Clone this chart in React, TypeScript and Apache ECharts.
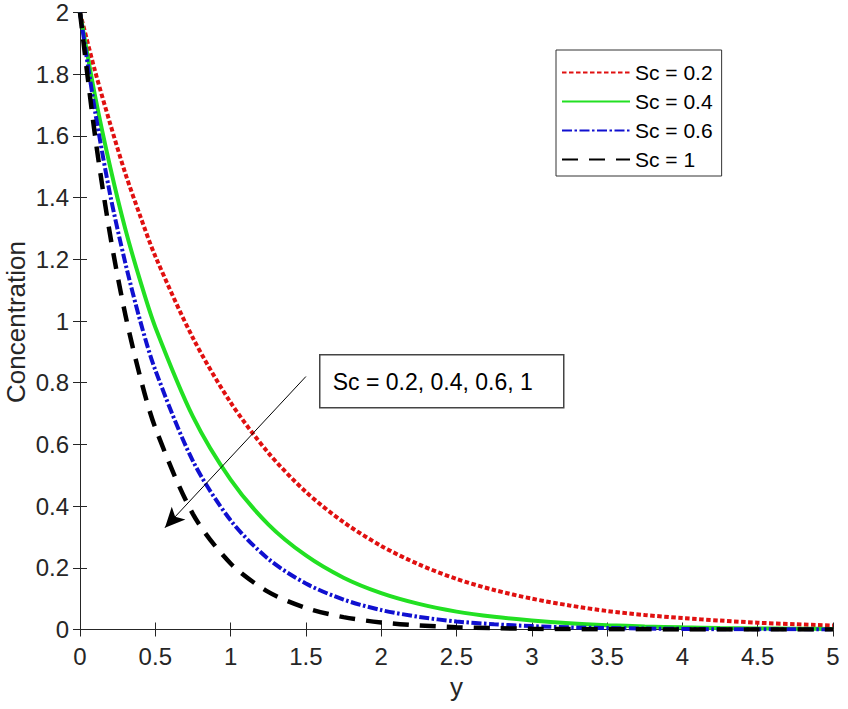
import React, { useEffect, useRef } from "react";
import * as echarts from "echarts";

const yPositions = [0, 0.1, 0.2, 0.3, 0.4, 0.5, 0.75, 1, 1.25, 1.5, 1.75, 2, 2.25, 2.5, 2.75, 3, 3.25, 3.5, 3.75, 4, 4.25, 4.5, 4.75, 5];
const sc02 = [2, 1.81, 1.64, 1.48, 1.34, 1.21, 0.945, 0.736, 0.573, 0.446, 0.348, 0.271, 0.211, 0.164, 0.128, 0.1, 0.078, 0.06, 0.047, 0.037, 0.029, 0.022, 0.017, 0.013];
const sc04 = [2, 1.73, 1.5, 1.3, 1.13, 0.98, 0.69, 0.486, 0.341, 0.24, 0.168, 0.118, 0.083, 0.058, 0.041, 0.029, 0.02, 0.014, 0.01, 0.007, 0.005, 0.0035, 0.0024, 0.0017];
const sc06 = [2, 1.68, 1.41, 1.19, 1.0, 0.841, 0.546, 0.354, 0.229, 0.149, 0.097, 0.063, 0.041, 0.026, 0.017, 0.011, 0.007, 0.005, 0.003, 0.002, 0.001, 0.001, 0.0005, 0.0003];
const sc10 = [2, 1.6, 1.279, 1.023, 0.818, 0.654, 0.374, 0.214, 0.122, 0.07, 0.04, 0.023, 0.013, 0.0075, 0.0043, 0.0024, 0.0014, 0.0008, 0.0005, 0.0003, 0.0002, 0.0001, 0.0001, 0];
const seriesNames = ["Sc = 0.2", "Sc = 0.4", "Sc = 0.6", "Sc = 1"];
const annotationText = "Sc = 0.2, 0.4, 0.6, 1";
const yAxisTitle = "Concentration";
const xAxisTitle = "y";
const arrowFrom = [1.5, 0.82];
const arrowTo = [0.564, 0.33];

const FONT = "'Liberation Sans', Arial, Helvetica, sans-serif";
const AX = "#262626";

function pairs(vals: number[]) {
  return yPositions.map((x, i) => [x, vals[i]]);
}

export default function App() {
  const ref = useRef<HTMLDivElement>(null);
  useEffect(() => {
    if (!ref.current) return;
    const chart = echarts.init(ref.current, null, { renderer: "svg" });
    const commonAxisLine = { show: true, lineStyle: { color: AX, width: 1 } };
    const tick = { show: true, inside: true, length: 7, lineStyle: { color: AX, width: 1 } };
    const mkLine = (name: string, vals: number[], color: string, width: number, dash: any, extra: any = {}) => ({
      name,
      type: "line",
      data: pairs(vals),
      smooth: 0.3,
      showSymbol: false,
      symbol: "circle",
      symbolSize: 0,
      lineStyle: { color, width, type: dash, cap: "butt" },
      itemStyle: { color },
      z: 2,
      ...extra,
    });
    chart.setOption({
      animation: false,
      backgroundColor: "#ffffff",
      grid: { left: 80, right: 15, top: 12.5, bottom: 79.5, containLabel: false, outerBoundsMode: "none" },
      legend: {
        orient: "vertical",
        left: 556,
        top: 50,
        padding: [12, 9, 6, 5],
        itemWidth: 68,
        itemHeight: 20,
        itemGap: 8,
        backgroundColor: "#ffffff",
        borderColor: "#333333",
        borderWidth: 1,
        itemStyle: { opacity: 0, color: "rgba(0,0,0,0)", borderWidth: 0 },
        textStyle: { fontSize: 21, color: "#000000", fontFamily: FONT },
        data: seriesNames,
      },
      xAxis: [
        {
          type: "value",
          min: 0,
          max: 5,
          interval: 0.5,
          name: xAxisTitle,
          nameLocation: "middle",
          nameGap: 44,
          nameTextStyle: { fontSize: 26, color: AX, fontFamily: FONT },
          axisLine: commonAxisLine,
          axisTick: tick,
          splitLine: { show: false },
          axisLabel: { fontSize: 24, color: AX, fontFamily: FONT, margin: 15 },
        },
        {
          type: "value",
          position: "top",
          min: 0,
          max: 5,
          interval: 0.5,
          axisLine: commonAxisLine,
          axisTick: tick,
          splitLine: { show: false },
          axisLabel: { show: false },
        },
      ],
      yAxis: [
        {
          type: "value",
          min: 0,
          max: 2,
          interval: 0.2,
          axisLine: commonAxisLine,
          axisTick: tick,
          splitLine: { show: false },
          axisLabel: { fontSize: 24, color: AX, fontFamily: FONT, margin: 11 },
        },
        {
          type: "value",
          position: "right",
          min: 0,
          max: 2,
          interval: 0.2,
          axisLine: commonAxisLine,
          axisTick: tick,
          splitLine: { show: false },
          axisLabel: { show: false },
        },
      ],
      series: [
        mkLine(seriesNames[0], sc02, "#e01010", 4, [4.5, 2.5]),
        mkLine(seriesNames[1], sc04, "#22e022", 4, "solid"),
        mkLine(seriesNames[2], sc06, "#1010d0", 4, [10, 2.5, 2.5, 2.5]),
        mkLine(seriesNames[3], sc10, "#000000", 4.5, [16, 11], {
          markLine: {
            silent: true,
            symbol: ["none", "arrow"],
            symbolSize: [14, 20],
            label: { show: false },
            lineStyle: { color: "#000000", width: 1, type: "solid" },
            data: [[{ coord: arrowFrom }, { coord: arrowTo }]],
          },
        }),
      ],
      graphic: [
        {
          type: "text",
          x: 16,
          y: 322,
          rotation: Math.PI / 2,
          z: 100,
          style: {
            text: yAxisTitle,
            fontSize: 26,
            fontFamily: FONT,
            fill: AX,
            align: "center",
            verticalAlign: "middle",
          },
        },
        {
          type: "group",
          left: 319,
          top: 354,
          z: 100,
          children: [
            {
              type: "rect",
              shape: { x: 0, y: 0, width: 244, height: 53 },
              style: { fill: "#ffffff", stroke: "#444444", lineWidth: 1.5 },
            },
            {
              type: "text",
              x: 13,
              y: 27,
              style: {
                text: annotationText,
                fontSize: 23,
                fontFamily: FONT,
                fill: "#000000",
                verticalAlign: "middle",
                align: "left",
              },
            },
          ],
        },
      ],
    });
    return () => chart.dispose();
  }, []);
  return (
    <div
      ref={ref}
      style={{ position: "absolute", left: 0, top: 0, width: 848, height: 709, background: "#fff" }}
    />
  );
}
